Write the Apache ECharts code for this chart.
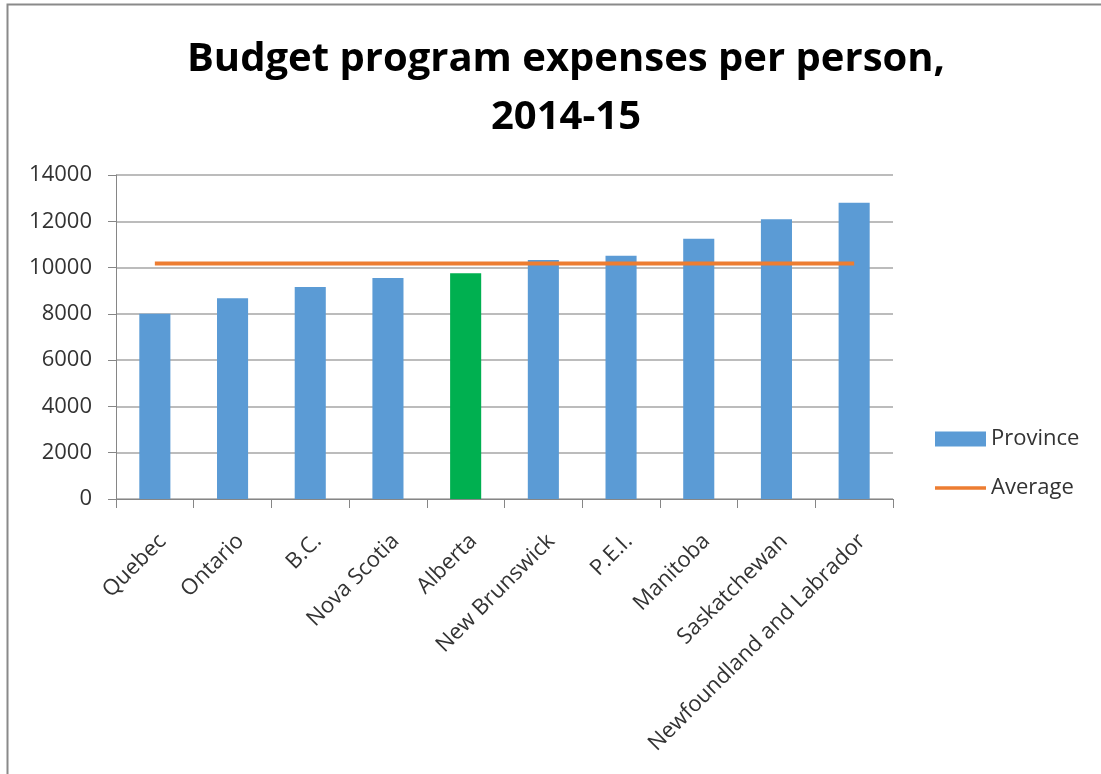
<!DOCTYPE html>
<html>
<head>
<meta charset="utf-8">
<script src="https://cdn.jsdelivr.net/npm/echarts@6/dist/echarts.min.js"></script>
<style>
html,body{margin:0;padding:0;background:#fff;}
#chart{width:1101px;height:774px;}
</style>
</head>
<body>
<div id="chart"></div>
<script>
var categories = ['Quebec','Ontario','B.C.','Nova Scotia','Alberta','New Brunswick','P.E.I.','Manitoba','Saskatchewan','Newfoundland and Labrador'];
var provinceValues = [8010, 8670, 9160, 9545, 9750, 10325, 10510, 11250, 12090, 12805];
var averageValues = [10180, 10180, 10180, 10180, 10180, 10180, 10180, 10180, 10180, 10180];
var yTicks = [0, 2000, 4000, 6000, 8000, 10000, 12000, 14000];
var highlightCategory = 'Alberta';

var BLUE = '#5B9BD5', GREEN = '#00B050', ORANGE = '#ED7D31';
var TEXT = '#333333';
var FONT = 'Open Sans';

var chart = echarts.init(document.getElementById('chart'));
chart.setOption({
  animation: false,
  backgroundColor: '#fff',
  graphic: [{
    type: 'rect',
    shape: {x: 7.5, y: 4.5, width: 1300, height: 1000},
    style: {fill: 'none', stroke: '#8a8a8a', lineWidth: 2},
    silent: true
  }],
  title: {
    text: 'Budget program expenses per person,\n2014-15',
    left: 561,
    top: 26,
    textAlign: 'center',
    textStyle: {
      fontFamily: FONT,
      fontWeight: 'bold',
      fontSize: 40,
      lineHeight: 58,
      color: '#000'
    }
  },
  legend: {
    orient: 'vertical',
    left: 935,
    top: 428,
    padding: 0,
    itemWidth: 51,
    itemHeight: 15,
    itemGap: 27,
    textStyle: {fontFamily: FONT, fontSize: 22, color: TEXT},
    data: [
      {name: 'Province', icon: 'rect', itemStyle: {color: BLUE}},
      {name: 'Average', icon: 'path://M0,0L51,0L51,3.5L0,3.5Z', itemStyle: {color: ORANGE}}
    ]
  },
  grid: {left: 116, right: 208, top: 175, bottom: 275, containLabel: false},
  xAxis: {
    type: 'category',
    data: categories,
    boundaryGap: true,
    axisLine: {lineStyle: {color: '#868686', width: 1}},
    axisTick: {show: true, length: 9, lineStyle: {color: '#868686'}},
    axisLabel: {
      rotate: 45,
      interval: 0,
      margin: 31,
      verticalAlign: 'top',
      fontFamily: FONT,
      fontSize: 22,
      color: TEXT
    }
  },
  yAxis: {
    type: 'value',
    min: yTicks[0],
    max: yTicks[yTicks.length - 1],
    interval: yTicks[1] - yTicks[0],
    axisLine: {show: true, lineStyle: {color: '#868686', width: 1}},
    axisTick: {show: true, length: 8, lineStyle: {color: '#868686'}},
    splitLine: {show: true, lineStyle: {color: '#a6a6a6', width: 1.5}},
    axisLabel: {
      margin: 24,
      fontFamily: FONT,
      fontSize: 22,
      color: TEXT,
      formatter: function (v) { return String(v); }
    }
  },
  series: [
    {
      name: 'Province',
      type: 'bar',
      barCategoryGap: '60%',
      itemStyle: {color: BLUE},
      data: provinceValues.map(function (v, i) {
        return categories[i] === highlightCategory
          ? {value: v, itemStyle: {color: GREEN}}
          : v;
      })
    },
    {
      name: 'Average',
      type: 'line',
      symbol: 'none',
      showSymbol: false,
      lineStyle: {color: ORANGE, width: 4},
      itemStyle: {color: ORANGE},
      data: averageValues
    }
  ]
});
</script>
</body>
</html>
